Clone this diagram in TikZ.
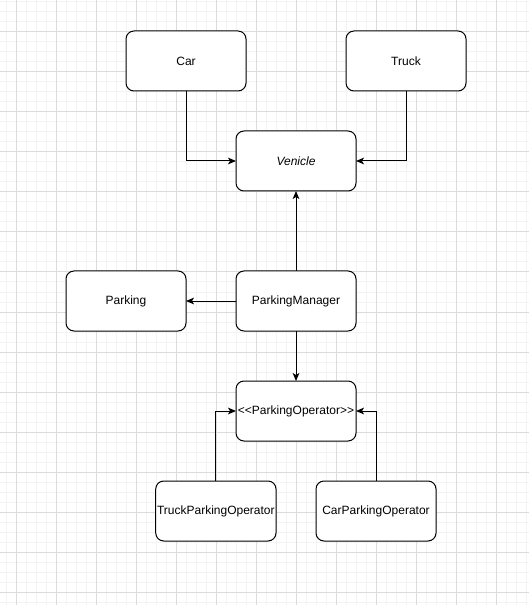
\documentclass[tikz,border=0pt]{standalone}
\usepackage{fontspec}
\newfontfamily\uifont{Liberation Sans}
\usetikzlibrary{positioning, arrows.meta}
\usepackage{xcolor}
\definecolor{gridminor}{HTML}{F3F3F3}
\definecolor{gridmajor}{HTML}{DCDCDC}

\begin{document}
\begin{tikzpicture}[
                x=0.75pt, y=-0.75pt,
                box/.style={rectangle, draw=black, line width=0.75pt, rounded corners=6pt, minimum width=90pt, minimum height=45pt, inner sep=1pt, outer sep=0pt, align=center, fill=white, font=\uifont\fontsize{9}{11}\selectfont},
                arrow/.style={-{Stealth[length=6pt, width=5pt, inset=1.5pt]}, line width=0.75pt, black}
            ]
            \useasboundingbox[fill=white] (0,0) rectangle (529,605);
            % grid
            \foreach \gx in {6,16,...,526} \draw[gridminor, line width=0.75pt] (\gx,0) -- (\gx,605);
            \foreach \gy in {2,12,...,602} \draw[gridminor, line width=0.75pt] (0,\gy) -- (529,\gy);
            \foreach \gx in {16,56,...,496} \draw[gridmajor, line width=0.75pt] (\gx,0) -- (\gx,605);
            \foreach \gy in {32,72,...,592} \draw[gridmajor, line width=0.75pt] (0,\gy) -- (529,\gy);

            \node[box] (vehicle) at (296,161) {\itshape Venicle};
            \node[box, above left=30pt and -7.5pt of vehicle] (car) {Car};
            \node[box, above right=30pt and -7.5pt of vehicle] (truck) {Truck};
            \node[box, below=60pt of vehicle] (manager) {ParkingManager};
            \node[box, left=37.5pt of manager] (parking) {Parking};
            \node[box, below=37.5pt of manager] (operator) {<<ParkingOperator>>};
            \node[box, below left=30pt and -30pt of operator] (truckop) {TruckParkingOperator};
            \node[box, below right=30pt and -30pt of operator] (carop) {CarParkingOperator};

            \draw[arrow] (car.south) |- (vehicle.west);
            \draw[arrow] (truck.south) |- (vehicle.east);
            \draw[arrow] (manager.north) -- (vehicle.south);
            \draw[arrow] (manager.west) -- (parking.east);
            \draw[arrow] (manager.south) -- (operator.north);
            \draw[arrow] (truckop.north) |- (operator.west);
            \draw[arrow] (carop.north) |- (operator.east);
        \end{tikzpicture}
\end{document}
